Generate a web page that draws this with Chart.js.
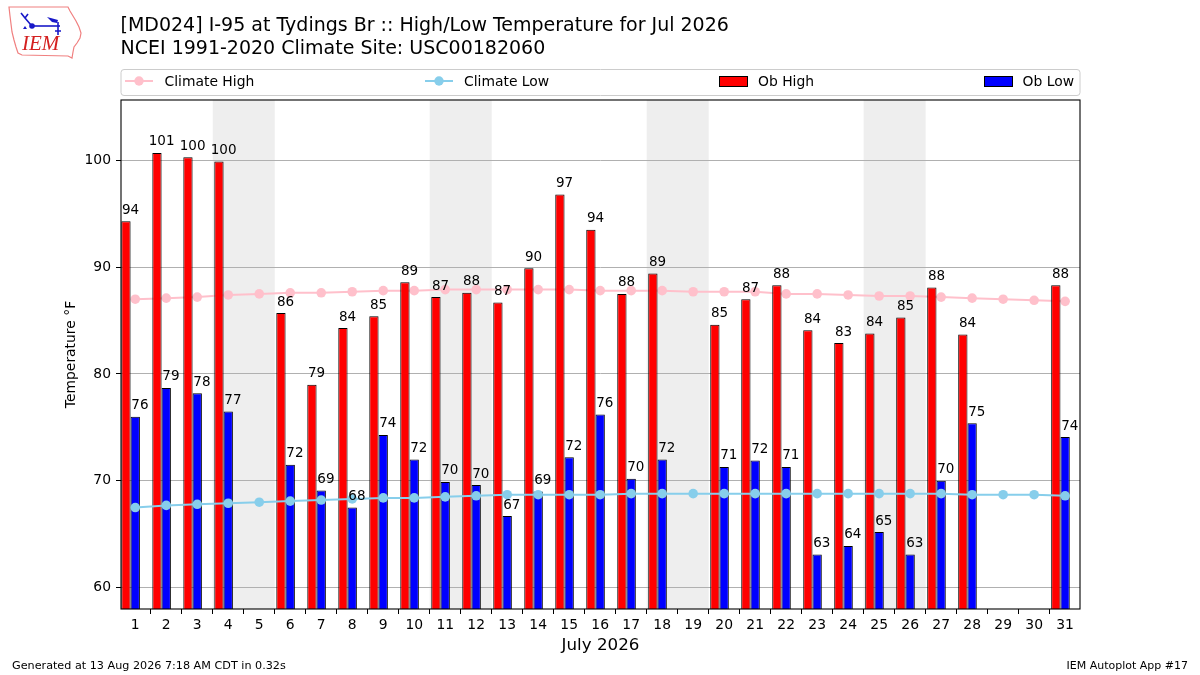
<!DOCTYPE html>
<html>
<head>
<meta charset="utf-8">
<script src="https://cdn.jsdelivr.net/npm/chart.js@4.4.1/dist/chart.umd.min.js"></script>
<style>
html,body{margin:0;padding:0;background:#fff;}
#wrap{position:relative;width:1200px;height:675px;}
</style>
</head>
<body>
<div id="wrap"><canvas id="c" width="1200" height="675"></canvas></div>
<script>
// ---- data ----
const days = [1,2,3,4,5,6,7,8,9,10,11,12,13,14,15,16,17,18,19,20,21,22,23,24,25,26,27,28,29,30,31];
const obHigh = [94.3,100.7,100.3,99.9,null,85.7,79.0,84.3,85.4,88.6,87.2,87.6,86.7,89.9,96.8,93.5,87.5,89.4,null,84.6,87.0,88.3,84.1,82.9,83.8,85.3,88.1,83.7,null,null,88.3];
const obLow = [76.0,78.7,78.2,76.5,null,71.5,69.1,67.5,74.3,72.0,69.9,69.6,66.7,69.0,72.2,76.2,70.2,72.0,null,71.3,71.9,71.3,63.1,63.9,65.2,63.1,70.0,75.4,null,null,74.1];
const climHigh = [87.0,87.1,87.2,87.4,87.5,87.6,87.6,87.7,87.8,87.8,87.9,87.9,87.9,87.9,87.9,87.8,87.8,87.8,87.7,87.7,87.7,87.5,87.5,87.4,87.3,87.3,87.2,87.1,87.0,86.9,86.8];
const climLow = [67.5,67.7,67.8,67.9,68.0,68.1,68.2,68.3,68.4,68.4,68.5,68.6,68.7,68.7,68.7,68.7,68.8,68.8,68.8,68.8,68.8,68.8,68.8,68.8,68.8,68.8,68.8,68.7,68.7,68.7,68.6];
const weekendStarts = [4,11,18,25];
const yTicks = [60,70,80,90,100];
const titleLines = ["[MD024] I-95 at Tydings Br :: High/Low Temperature for Jul 2026","NCEI 1991-2020 Climate Site: USC00182060"];
const xTitle = "July 2026";
const yTitle = "Temperature \u00B0F";
const footLeft = "Generated at 13 Aug 2026 7:18 AM CDT in 0.32s";
const footRight = "IEM Autoplot App #17";
const legendNames = ["Climate High","Climate Low","Ob High","Ob Low"];

// ---- styles ----
const FONT = "'DejaVu Sans', 'Liberation Sans', sans-serif";
const C_HIGH = '#ff0000', C_LOW = '#0000ff', C_CH = '#ffc0cb', C_CL = '#87ceeb';
const GROUP_SHIFT = -0.15;

const pts = (arr, shift) => days.map((d,i) => ({x: d + shift, y: arr[i]}));

const decorPlugin = {
  id: 'decor',
  beforeDraw(chart) {
    const ctx = chart.ctx, a = chart.chartArea, xs = chart.scales.x;
    ctx.save();
    ctx.fillStyle = '#fff';
    ctx.fillRect(0,0,chart.width,chart.height);
    ctx.fillStyle = '#eeeeee';
    weekendStarts.forEach(d => {
      const x0 = xs.getPixelForValue(d - 0.5), x1 = xs.getPixelForValue(d + 1.5);
      ctx.fillRect(x0, a.top, x1 - x0, a.bottom - a.top);
    });
    ctx.restore();
  },
  afterDatasetsDraw(chart) {
    const ctx = chart.ctx;
    ctx.save();
    ctx.fillStyle = '#000';
    ctx.font = '13.5px ' + FONT;
    ctx.textAlign = 'center';
    ctx.textBaseline = 'alphabetic';
    [1,2].forEach(di => {
      const meta = chart.getDatasetMeta(di);
      const ds = chart.data.datasets[di];
      meta.data.forEach((el, i) => {
        const v = ds.data[i].y;
        if (v === null || v === undefined) return;
        ctx.fillText(String(Math.round(v)), el.x + el.width/2, el.y - 7.5);
      });
    });
    ctx.restore();
  },
  afterDraw(chart) {
    const ctx = chart.ctx, a = chart.chartArea;
    ctx.save();
    // frame
    ctx.strokeStyle = '#000'; ctx.lineWidth = 1.1;
    ctx.strokeRect(a.left, a.top, a.right - a.left, a.bottom - a.top);
    // titles
    ctx.fillStyle = '#000';
    ctx.textAlign = 'left'; ctx.textBaseline = 'alphabetic';
    ctx.font = '19px ' + FONT;
    ctx.fillText(titleLines[0], 120.5, 31);
    ctx.fillText(titleLines[1], 120.5, 53.5);
    // axis titles
    ctx.font = '16.7px ' + FONT;
    ctx.textAlign = 'center';
    ctx.fillText(xTitle, (a.left + a.right)/2, 650);
    ctx.save();
    ctx.translate(75, (a.top + a.bottom)/2);
    ctx.rotate(-Math.PI/2);
    ctx.font = '13.9px ' + FONT;
    ctx.fillText(yTitle, 0, 0);
    ctx.restore();
    // footer
    ctx.font = '11.2px ' + FONT;
    ctx.textAlign = 'left';
    ctx.fillText(footLeft, 12, 669);
    ctx.textAlign = 'right';
    ctx.font = '11px ' + FONT;
    ctx.fillText(footRight, 1188, 669);
    // legend
    const ly0 = 69.5, ly1 = 95.5, lyc = 82;
    ctx.beginPath();
    const r = 3, lx0 = a.left, lx1 = a.right;
    ctx.moveTo(lx0 + r, ly0); ctx.lineTo(lx1 - r, ly0); ctx.arcTo(lx1, ly0, lx1, ly0 + r, r);
    ctx.lineTo(lx1, ly1 - r); ctx.arcTo(lx1, ly1, lx1 - r, ly1, r);
    ctx.lineTo(lx0 + r, ly1); ctx.arcTo(lx0, ly1, lx0, ly1 - r, r);
    ctx.lineTo(lx0, ly0 + r); ctx.arcTo(lx0, ly0, lx0 + r, ly0, r);
    ctx.closePath();
    ctx.fillStyle = 'rgba(255,255,255,0.8)'; ctx.fill();
    ctx.strokeStyle = '#cccccc'; ctx.lineWidth = 1; ctx.stroke();
    ctx.font = '13.9px ' + FONT;
    ctx.textAlign = 'left'; ctx.textBaseline = 'middle';
    const lineEntries = [[125, C_CH, legendNames[0], 164.5], [425, C_CL, legendNames[1], 464]];
    lineEntries.forEach(([x, col, name, tx]) => {
      ctx.strokeStyle = col; ctx.lineWidth = 2;
      ctx.beginPath(); ctx.moveTo(x, lyc - 1); ctx.lineTo(x + 28, lyc - 1); ctx.stroke();
      ctx.fillStyle = col; ctx.beginPath(); ctx.arc(x + 14, lyc - 1, 4.7, 0, Math.PI*2); ctx.fill();
      ctx.fillStyle = '#000'; ctx.fillText(name, tx, lyc);
    });
    const boxEntries = [[719.5, C_HIGH, legendNames[2], 758], [984.5, C_LOW, legendNames[3], 1022.5]];
    boxEntries.forEach(([x, col, name, tx]) => {
      ctx.fillStyle = col; ctx.fillRect(x, 76.5, 28, 10);
      ctx.strokeStyle = '#000'; ctx.lineWidth = 1; ctx.strokeRect(x, 76.5, 28, 10);
      ctx.fillStyle = '#000'; ctx.fillText(name, tx, lyc);
    });
    // logo (approximate IEM mark)
    ctx.strokeStyle = '#f08080'; ctx.lineWidth = 1.2;
    ctx.beginPath();
    const poly = [[9,7],[68,7],[70,11],[73,16],[76,21],[79,27],[81,33],[80,38],[77,43],[74,47],[73,52],[72,58],[68,56],[22,55],[18,53],[16,47],[14,40],[12,32],[11,24],[10,16]];
    poly.forEach((p,i) => { if (i===0) ctx.moveTo(p[0], p[1]); else ctx.lineTo(p[0], p[1]); });
    ctx.closePath(); ctx.stroke();
    ctx.strokeStyle = '#1818c8'; ctx.fillStyle = '#1818c8'; ctx.lineWidth = 1.6;
    ctx.beginPath(); ctx.moveTo(31,26); ctx.lineTo(60,26); ctx.stroke();
    ctx.beginPath(); ctx.arc(32,26,2.8,0,Math.PI*2); ctx.fill();
    ctx.beginPath(); ctx.moveTo(47,17); ctx.lineTo(58,20); ctx.lineTo(57,23); ctx.lineTo(52,22); ctx.closePath(); ctx.fill();
    ctx.beginPath(); ctx.moveTo(58,22); ctx.lineTo(58,35); ctx.moveTo(55,31); ctx.lineTo(61,31); ctx.stroke();
    ctx.beginPath(); ctx.moveTo(21,13); ctx.lineTo(25,18); ctx.lineTo(31,25); ctx.moveTo(25,18); ctx.lineTo(28,14); ctx.stroke();
    ctx.beginPath(); ctx.moveTo(23,29); ctx.lineTo(25,26); ctx.lineTo(27,29); ctx.closePath(); ctx.fill();
    ctx.fillStyle = '#d42020';
    ctx.font = 'italic 21px "Liberation Serif", "DejaVu Serif", serif';
    ctx.textAlign = 'left'; ctx.textBaseline = 'alphabetic';
    ctx.fillText('IEM', 22, 50);
    ctx.restore();
  }
};

new Chart(document.getElementById('c'), {
  type: 'bar',
  data: {
    datasets: [
      { type: 'line', label: legendNames[0], data: pts(climHigh, 0), borderColor: C_CH, backgroundColor: C_CH,
        borderWidth: 2, pointRadius: 4.8, pointBorderWidth: 0, pointBackgroundColor: C_CH, order: 3 },
      { type: 'bar', label: legendNames[2], data: pts(obHigh, GROUP_SHIFT), backgroundColor: C_HIGH, borderColor: '#000',
        borderWidth: 1, borderSkipped: false, categoryPercentage: 0.6, barPercentage: 1.0, order: 1 },
      { type: 'bar', label: legendNames[3], data: pts(obLow, GROUP_SHIFT), backgroundColor: C_LOW, borderColor: '#000',
        borderWidth: 1, borderSkipped: false, categoryPercentage: 0.6, barPercentage: 1.0, order: 2 },
      { type: 'line', label: legendNames[1], data: pts(climLow, 0), borderColor: C_CL, backgroundColor: C_CL,
        borderWidth: 2, pointRadius: 4.8, pointBorderWidth: 0, pointBackgroundColor: C_CL, order: 0 }
    ]
  },
  options: {
    responsive: false,
    animation: false,
    devicePixelRatio: 1,
    layout: { padding: { left: 51, right: 120, top: 100, bottom: 26 } },
    plugins: { legend: { display: false }, title: { display: false }, tooltip: { enabled: false } },
    scales: {
      x: {
        type: 'linear', min: 0.54, max: 31.48, offset: false,
        afterBuildTicks: s => { s.ticks = days.map(v => ({value: v})); },
        afterFit: s => { s.height = 40; },
        grid: { display: true, drawOnChartArea: false, drawTicks: true, tickLength: 5, tickColor: '#000', tickWidth: 1 },
        border: { display: false },
        ticks: { autoSkip: false, maxRotation: 0, padding: 3, color: '#000', font: { family: FONT, size: 13.9 } }
      },
      y: {
        type: 'linear', min: 58, max: 105.65,
        afterBuildTicks: s => { s.ticks = yTicks.map(v => ({value: v})); },
        afterFit: s => { s.width = 70; },
        grid: { color: '#b0b0b0', lineWidth: 1, drawTicks: true, tickLength: 5, tickColor: '#000', tickWidth: 1 },
        border: { display: false },
        ticks: { padding: 5, color: '#000', font: { family: FONT, size: 13.9 } }
      }
    }
  },
  plugins: [decorPlugin]
});
</script>
</body>
</html>
